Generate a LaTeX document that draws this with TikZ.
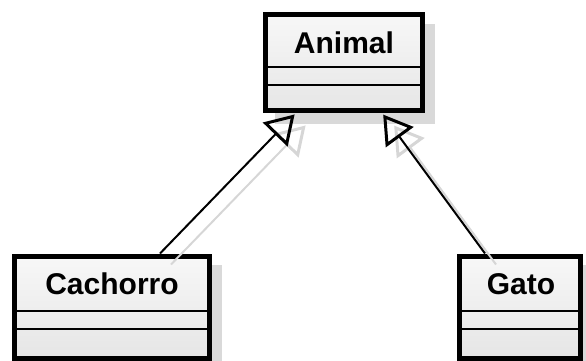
\documentclass[tikz,border=0pt]{standalone}
\usepackage{fontspec}
\setmainfont{Liberation Sans}
\usetikzlibrary{arrows.meta,calc}
\begin{document}
\begin{tikzpicture}[x=1pt,y=-1pt]
\tikzset{
  umlbox/.style={draw=black, line width=5pt, rectangle, inner sep=0pt,
    top color=white!97!black, bottom color=white!90!black},
  boxshadow/.style={fill=black!15, draw=none, rectangle, inner sep=0pt},
  sepline/.style={line width=2pt},
  cname/.style={font=\fontsize{30}{32}\selectfont\bfseries, anchor=base, inner sep=0pt},
  inhtip/.tip={Triangle[open, length=28pt, width=34pt, line width=3pt]},
  inh/.style={line width=2pt, -inhtip, shorten >=2pt},
  inhshadow/.style={line width=2pt, -inhtip, shorten >=2pt, draw=black!16}
}
\useasboundingbox (0,0) rectangle (586,360);
% shadows of boxes
\node[boxshadow, minimum width=160pt, minimum height=100pt] (animalsh) at (355,73.5) {};
\node[boxshadow, minimum width=198pt, minimum height=106pt] (cachorrosh) at (123,318) {};
\node[boxshadow, minimum width=124pt, minimum height=106pt] (gatosh) at (531,318) {};
% boxes
\node[umlbox, minimum width=157pt, minimum height=96pt] (animal) at (344,62.5) {};
\node[umlbox, minimum width=195pt, minimum height=102pt] (cachorro) at (112,307) {};
\node[umlbox, minimum width=121pt, minimum height=102pt] (gato) at (520,307) {};
% compartments
\draw[sepline] (animal.west |- 0,67) -- (animal.east |- 0,67);
\draw[sepline] (animal.west |- 0,85) -- (animal.east |- 0,85);
\draw[sepline] (cachorro.west |- 0,311) -- (cachorro.east |- 0,311);
\draw[sepline] (cachorro.west |- 0,329) -- (cachorro.east |- 0,329);
\draw[sepline] (gato.west |- 0,311) -- (gato.east |- 0,311);
\draw[sepline] (gato.west |- 0,329) -- (gato.east |- 0,329);
% names
\node[cname] (animalname) at (344,53) {Animal};
\node[cname] (cachorroname) at (112,294) {Cachorro};
\node[cname] (gatoname) at (521,294) {Gato};
% connector anchors
\coordinate (xc) at (160,0);
\coordinate (xa1) at (296,0);
\coordinate (xg) at (485,0);
\coordinate (xa2) at (382,0);
% connector shadows
\draw[inhshadow] ($(cachorro.north -| xc)+(11,11)$) -- ($(animal.south -| xa1)+(11,11)$);
\draw[inhshadow] ($(gato.north -| xg)+(11,11)$) -- ($(animal.south -| xa2)+(11,11)$);
% connectors
\draw[inh] (cachorro.north -| xc) -- (animal.south -| xa1);
\draw[inh] (gato.north -| xg) -- (animal.south -| xa2);
\end{tikzpicture}
\end{document}
